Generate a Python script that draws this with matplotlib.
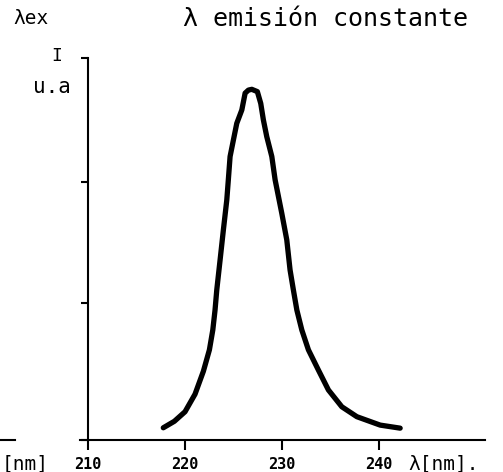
import matplotlib
matplotlib.use("Agg")
import matplotlib.pyplot as plt
from matplotlib.lines import Line2D

# Excitation spectrum at constant emission wavelength
wavelength_nm = [217.76, 218.90, 220.00, 221.03, 221.89, 222.51, 222.86, 223.09,
                 223.27, 223.61, 223.95, 224.30, 224.46, 224.64, 224.98, 225.33,
                 225.85, 226.19, 226.53, 226.88, 227.45, 227.80, 228.07, 228.42,
                 228.94, 229.28, 229.97, 230.48, 230.82, 231.16, 231.52, 232.03,
                 232.71, 233.74, 234.77, 236.15, 237.70, 240.10, 242.16]
intensity_au = [3.2, 4.9, 7.4, 12.0, 18.0, 23.6, 28.8, 34.0,
                39.3, 47.1, 55.0, 62.8, 68.1, 74.2, 78.5, 82.9,
                86.4, 90.8, 91.6, 91.8, 91.2, 88.1, 83.8, 79.4,
                74.2, 68.1, 59.3, 52.4, 44.5, 39.3, 34.0, 28.8,
                23.6, 18.3, 13.1, 8.7, 6.1, 3.9, 3.1]
x_ticks = [210, 220, 230, 240]
x_tick_labels = ["210", "220", "230", "240"]
y_ticks = [0, 35.9, 67.5, 100]

W, H = 503, 472
fig = plt.figure(figsize=(W / 100, H / 100), dpi=100)
mono = "DejaVu Sans Mono"

def px(x, y):
    return x / W, 1 - y / H

ax = fig.add_axes([80 / W, 32 / H, 405 / W, 382 / H])
ax.plot(wavelength_nm, intensity_au, color="black", lw=3.8,
        solid_capstyle="round", solid_joinstyle="round")

ax.set_xlim(209.18, 250.9)
ax.set_ylim(0, 100)
for s in ("top", "right"):
    ax.spines[s].set_visible(False)
ax.spines["left"].set_position(("data", 210))
ax.spines["left"].set_linewidth(1.5)
ax.spines["bottom"].set_linewidth(1.5)

ax.set_xticks(x_ticks)
ax.set_xticklabels(x_tick_labels, fontfamily=mono, fontsize=11, fontweight="bold")
ax.tick_params(axis="x", direction="out", length=7, width=1.5, pad=5)
ax.set_yticks(y_ticks)
ax.set_yticklabels([])
ax.tick_params(axis="y", direction="out", length=5, width=1.5)

fig.text(*px(13, 19), "λex", fontfamily=mono, fontsize=14, ha="left", va="center")
fig.text(*px(183, 19), "λ emisión constante", fontfamily=mono, fontsize=18,
         ha="left", va="center")
fig.text(*px(57, 56), "I", fontfamily=mono, fontsize=13, ha="center", va="center")
fig.text(*px(52, 87), "u.a", fontfamily=mono, fontsize=15, ha="center", va="center")
fig.text(*px(408, 464), "λ[nm].", fontfamily=mono, fontsize=14, ha="left", va="center")
fig.text(*px(2, 464), "[nm]", fontfamily=mono, fontsize=14, ha="left", va="center")

# fragment of the neighbouring axis on the left
fig.add_artist(Line2D([0, 15 / W], [1 - 440 / H, 1 - 440 / H], color="black", lw=1.5))

fig.savefig("out.png", dpi=100, facecolor="white")
